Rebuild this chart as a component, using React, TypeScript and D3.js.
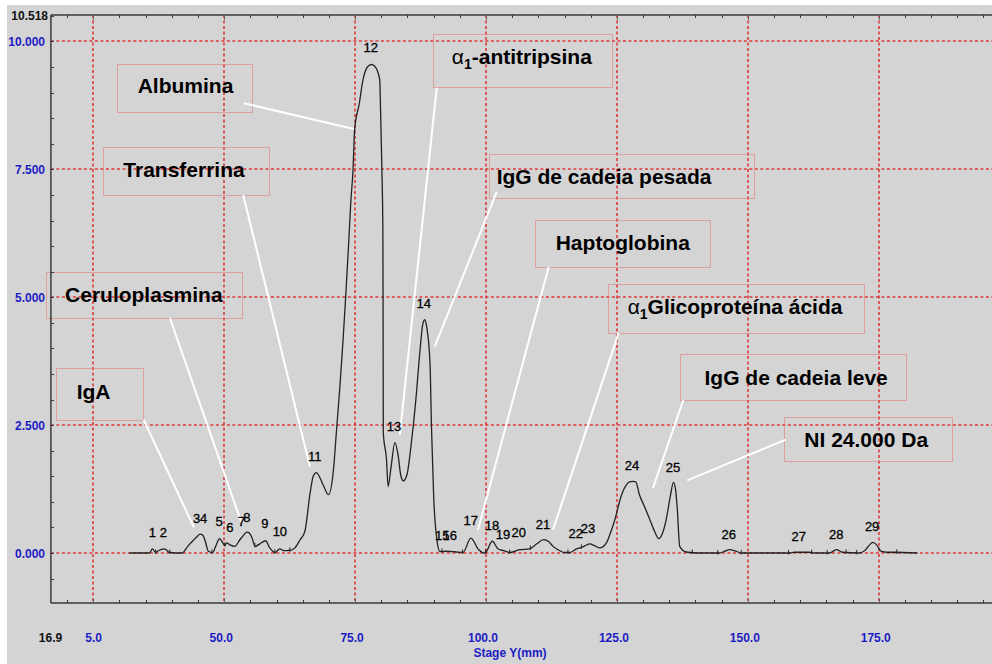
import React from 'react';
import * as d3 from 'd3';

// ---- data ----
const traceMm = [
  31.9, 35.7, 36.3, 36.9, 37.4, 38.6, 39.6, 41.9, 43.1, 44.2,
  44.8, 45.4, 45.9, 46.3, 47.0, 47.8, 48.4, 49.1, 49.6, 50.1,
  50.5, 51.1, 52.0, 53.0, 53.8, 54.3, 54.7, 55.3, 55.9, 56.8,
  57.9, 58.7, 59.7, 60.6, 61.4, 62.5, 63.5, 64.5, 65.4, 66.4,
  67.0, 67.6, 68.9, 69.9, 70.8, 71.5, 72.1, 72.7, 73.2, 73.7,
  74.2, 74.6, 74.9, 75.8, 76.5, 77.2, 77.8, 78.1, 78.7, 79.2,
  79.7, 79.9, 80.1, 80.3, 80.34, 80.38, 81.0, 81.3, 81.8, 82.6,
  83.2, 83.7, 84.2, 84.9, 85.8, 86.6, 87.4, 87.9, 88.3, 88.7,
  89.3, 89.6, 90.0, 90.7, 91.2, 92.5, 94.0, 95.6, 97.1, 98.6,
  99.8, 101.2, 102.3, 103.4, 104.5, 106.4, 108.3, 109.7, 111.0, 112.0,
  112.8, 114.1, 115.0, 116.0, 117.3, 118.5, 119.8, 120.8, 121.7, 123.0,
  123.8, 124.6, 125.8, 126.8, 127.4, 128.1, 128.6, 129.3, 130.3, 131.3,
  132.2, 133.0, 133.6, 134.4, 135.2, 135.8, 136.2, 136.5, 137.0, 138.2,
  140.8, 144.6, 145.6, 146.5, 147.7, 148.8, 158.0, 158.9, 161.8, 162.7,
  165.6, 166.9, 168.1, 171.3, 172.3, 173.9, 174.6, 175.5, 176.5, 177.8,
  182.4,
];
const traceVal = [
  0, 0, 0.08, 0.01, 0.045, 0.08, 0.01, 0, 0.14, 0.26,
  0.32, 0.37, 0.35, 0.26, 0.03, 0.01, 0.14, 0.28, 0.22, 0.15,
  0.2, 0.16, 0.13, 0.26, 0.36, 0.41, 0.4, 0.3, 0.13, 0.18,
  0.24, 0.1, 0.01, 0.08, 0.045, 0.05, 0.1, 0.26, 0.42, 1.17,
  1.5, 1.57, 1.33, 1.14, 1.56, 2.47, 3.26, 4.17, 5.01, 5.93,
  6.9, 7.49, 8.27, 8.79, 9.25, 9.48, 9.54, 9.55, 9.52, 9.44,
  9.25, 8.47, 7.55, 6.32, 4.83, 2.35, 1.82, 1.3, 1.63, 2.16,
  1.92, 1.53, 1.41, 1.53, 2.21, 3.0, 3.97, 4.46, 4.56, 4.4,
  3.71, 2.41, 1.11, 0.2, 0.03, 0.035, 0.025, 0.01, 0.29, 0.065,
  0, 0.23, 0.08, 0.045, 0.01, 0.065, 0.08, 0.18, 0.26, 0.22,
  0.13, 0.045, 0.01, 0.01, 0.08, 0.12, 0.18, 0.14, 0.1, 0.2,
  0.4, 0.65, 1.11, 1.33, 1.39, 1.4, 1.39, 1.14, 0.9, 0.65,
  0.42, 0.28, 0.36, 0.65, 1.11, 1.38, 1.24, 0.91, 0.13, 0.02,
  0, 0, 0.035, 0.065, 0.035, 0, 0, 0.015, 0.015, 0,
  0, 0.065, 0.015, 0, 0.045, 0.21, 0.16, 0.03, 0.015, 0.015,
  0,
];
const peakMarkMm = [
  36.9, 39.6, 47.65, 50.13, 55.86, 59.68, 62.54, 91.6, 95.5, 99.89,
  104.52, 108.47, 115.65, 118.21, 139.39, 144.27, 148.74, 157.76,
  162.21, 165.15, 168.78, 170.8, 178.44,
];
const peakLabels = [
  '1', '2', '3', '4', '5', '6', '7', '8', '9', '10', '11', '12', '13', '14', '15',
  '16', '17', '18', '19', '20', '21', '22', '23', '24', '25', '26', '27', '28', '29',
];
const peakLabelMm = [
  36.26, 38.36, 44.73, 46.07, 49.05, 51.09, 53.32, 54.33, 57.77, 60.63, 67.31,
  78.0, 82.44, 88.11, 91.64, 93.07, 97.08, 101.15, 103.24, 106.24, 110.88,
  117.12, 119.47, 127.86, 135.69, 146.37, 159.73, 166.87, 173.74,
];
const peakLabelVal = [
  0.32, 0.32, 0.59, 0.59, 0.52, 0.41, 0.53, 0.61, 0.49, 0.33, 1.8,
  9.785, 2.39, 4.79, 0.26, 0.26, 0.54, 0.455, 0.28, 0.32, 0.475,
  0.3, 0.4, 1.63, 1.59, 0.28, 0.23, 0.28, 0.43,
];

const xGridTicks = [25, 50, 75, 100, 125, 150, 175];
const xTickLabels = ['25.0', '50.0', '75.0', '100.0', '125.0', '150.0', '175.0'];
const yGridTicks = [0, 2.5, 5, 7.5, 10];
const yTickLabels = ['0.000', '2.500', '5.000', '7.500', '10.000'];
const xMinLabel = '16.9';
const yMaxLabel = '10.518';
const xTitle = 'Stage Y(mm)';

const calloutText = [
  'Albumina', 'α1-antitripsina', 'Transferrina', 'IgG de cadeia pesada', 'Haptoglobina',
  'Ceruloplasmina', 'α1Glicoproteína ácida', 'IgA', 'IgG de cadeia leve', 'NI 24.000 Da',
];
// box: [leftMm, topVal, rightMm, bottomVal]
const calloutBox = [
  [29.58, 9.554, 55.34, 8.609],
  [89.83, 10.152, 123.99, 9.116],
  [26.79, 7.933, 58.4, 7.001],
  [100.52, 7.802, 151.1, 6.942],
  [109.3, 6.512, 142.7, 5.594],
  [15.92, 5.502, 53.38, 4.611],
  [123.23, 5.262, 172.09, 4.304],
  [17.88, 3.615, 34.48, 2.605],
  [136.96, 3.894, 180.09, 2.995],
  [156.97, 2.663, 189.03, 1.809],
];
const calloutTextAt = [
  [33.47, 8.988], [93.46, 9.551], [30.73, 7.358], [102.04, 7.206], [113.31, 5.916],
  [19.6, 4.916], [127.05, 4.666], [21.83, 3.009], [141.73, 3.288], [160.79, 2.077],
];
// leader: [fromMm, fromVal, toMm, toVal]
const calloutLine = [
  [53.76, 8.793, 74.94, 8.285],
  [90.59, 9.096, 83.53, 2.311],
  [53.63, 7.001, 66.36, 1.692],
  [102.04, 7.059, 90.21, 4.037],
  [111.97, 5.594, 98.47, 0.455],
  [39.64, 4.592, 53.32, 0.586],
  [125.32, 4.304, 112.79, 0.455],
  [34.62, 2.605, 44.22, 0.5],
  [137.69, 2.995, 131.87, 1.27],
  [157.19, 2.214, 138.43, 1.419],
];

const W = 992;
const H = 664;

export default function App() {
  const x = d3.scaleLinear().domain([16.9, 196.5]).range([50.9, 991.3]);
  const y = d3.scaleLinear().domain([-0.977, 10.518]).range([603, 15]);
  const x0 = x(16.9);
  const yTop = y(10.518);
  const yBot = y(-0.977);

  const pts: [number, number][] = traceMm.map((m, i) => [m, traceVal[i]]);
  const line = d3
    .line<[number, number]>()
    .x((d) => x(d[0]))
    .y((d) => y(d[1]))
    .curve(d3.curveMonotoneX);

  const interp = (m: number) => {
    const i = d3.bisector((d: [number, number]) => d[0]).left(pts, m);
    if (i <= 0) return pts[0][1];
    if (i >= pts.length) return pts[pts.length - 1][1];
    const a = pts[i - 1];
    const b = pts[i];
    const t = (m - a[0]) / (b[0] - a[0]);
    return a[1] + t * (b[1] - a[1]);
  };

  const minorX = d3.range(20, 196, 5);
  const minorY = d3.range(-0.5, 10.6, 0.5);

  const font = "'Liberation Sans', Arial, sans-serif";
  const blue = '#1c1cc4';
  const gridColor = '#dd3a3a';
  const axisColor = '#3a3a3a';

  const renderCallout = (t: string) => {
    if (t.startsWith('α1')) {
      return (
        <>
          <tspan fontWeight="normal">α</tspan>
          <tspan fontSize={14} dy={5}>1</tspan>
          <tspan dy={-5}>{t.slice(2)}</tspan>
        </>
      );
    }
    return t;
  };

  return (
    <svg
      width={W}
      height={H}
      style={{ position: 'absolute', left: 0, top: 0, display: 'block' }}
      fontFamily={font}
    >
      <rect x={0} y={0} width={W} height={H} fill="#ffffff" />
      <rect x={7} y={5} width={W - 7} height={H - 5} fill="#d4d4d4" />

      {/* grid */}
      {xGridTicks.map((t) => (
        <line
          key={'gx' + t}
          x1={Math.round(x(t))}
          x2={Math.round(x(t))}
          y1={yTop}
          y2={yBot}
          stroke={gridColor}
          strokeWidth={1.6}
          strokeDasharray="3,2.5"
        />
      ))}
      {yGridTicks.map((t) => (
        <line
          key={'gy' + t}
          x1={x0}
          x2={W}
          y1={Math.round(y(t))}
          y2={Math.round(y(t))}
          stroke={gridColor}
          strokeWidth={1.6}
          strokeDasharray="3,2.5"
        />
      ))}

      {/* callout boxes */}
      {calloutBox.map((b, i) => (
        <rect
          key={'cb' + i}
          x={Math.round(x(b[0])) + 0.5}
          y={Math.round(y(b[1])) + 0.5}
          width={Math.round(x(b[2]) - x(b[0]))}
          height={Math.round(y(b[3]) - y(b[1]))}
          fill="none"
          stroke="#ec6a6a"
          strokeWidth={1}
          strokeDasharray="1,1"
        />
      ))}

      {/* leader lines */}
      {calloutLine.map((l, i) => (
        <line
          key={'cl' + i}
          x1={x(l[0])}
          y1={y(l[1])}
          x2={x(l[2])}
          y2={y(l[3])}
          stroke="#ffffff"
          strokeWidth={2}
        />
      ))}

      {/* trace */}
      <path d={line(pts) || ''} fill="none" stroke="#222" strokeWidth={1.3} strokeLinejoin="round" />
      {peakMarkMm.map((m, i) => {
        const yy = y(interp(m));
        return (
          <line
            key={'pm' + i}
            x1={x(m)}
            x2={x(m)}
            y1={yy - 3}
            y2={yy + 1.5}
            stroke="#262626"
            strokeWidth={1}
          />
        );
      })}

      {/* peak labels */}
      {peakLabels.map((p, i) => (
        <text
          key={'pl' + i}
          x={x(peakLabelMm[i])}
          y={y(peakLabelVal[i])}
          textAnchor="middle"
          fontSize={13}
          fill="#000"
          stroke="#000"
          strokeWidth={0.3}
        >
          {p}
        </text>
      ))}

      {/* callout texts */}
      {calloutText.map((t, i) => (
        <text
          key={'ct' + i}
          x={x(calloutTextAt[i][0])}
          y={y(calloutTextAt[i][1])}
          fontSize={21}
          fontWeight="bold"
          fill="#000"
        >
          {renderCallout(t)}
        </text>
      ))}

      {/* axes */}
      <line x1={x0} x2={x0} y1={yTop} y2={yBot} stroke={axisColor} strokeWidth={1.5} />
      <line x1={x0} x2={W} y1={yBot} y2={yBot} stroke={axisColor} strokeWidth={1.5} />
      <line x1={x0} x2={W} y1={yTop} y2={yTop} stroke={axisColor} strokeWidth={1.5} />
      {minorX.map((t) => {
        const major = t % 25 === 0;
        const xx = Math.round(x(t)) + 0.5;
        return (
          <g key={'tx' + t}>
            <line x1={xx} x2={xx} y1={yBot} y2={yBot - (major ? 5 : 3)} stroke={major ? '#666' : axisColor} strokeWidth={1} />
            <line x1={xx} x2={xx} y1={yTop} y2={yTop + (major ? 5 : 3)} stroke={major ? '#666' : axisColor} strokeWidth={1} />
          </g>
        );
      })}
      {minorY.map((t) => {
        const yy = Math.round(y(t)) + 0.5;
        return <line key={'ty' + t} x1={x0} x2={x0 + 3} y1={yy} y2={yy} stroke={axisColor} strokeWidth={1} />;
      })}

      {/* tick labels */}
      {yGridTicks.map((t, i) => (
        <text
          key={'yl' + t}
          x={45}
          y={y(t) + 4.5}
          textAnchor="end"
          fontSize={12}
          fontWeight="bold"
          fill={blue}
        >
          {yTickLabels[i]}
        </text>
      ))}
      <text x={48} y={19.5} textAnchor="end" fontSize={12} fontWeight="bold" fill="#111">
        {yMaxLabel}
      </text>
      {xGridTicks.map((t, i) => (
        <text
          key={'xl' + t}
          x={x(t) - 3}
          y={642}
          textAnchor="middle"
          fontSize={12}
          fontWeight="bold"
          fill={blue}
        >
          {xTickLabels[i]}
        </text>
      ))}
      <rect x={34} y={626} width={51.5} height={20} fill="#d4d4d4" />
      <text x={50.5} y={642} textAnchor="middle" fontSize={12} fontWeight="bold" fill="#111">
        {xMinLabel}
      </text>
      <text x={510} y={657} textAnchor="middle" fontSize={12} fontWeight="bold" fill={blue}>
        {xTitle}
      </text>
    </svg>
  );
}
